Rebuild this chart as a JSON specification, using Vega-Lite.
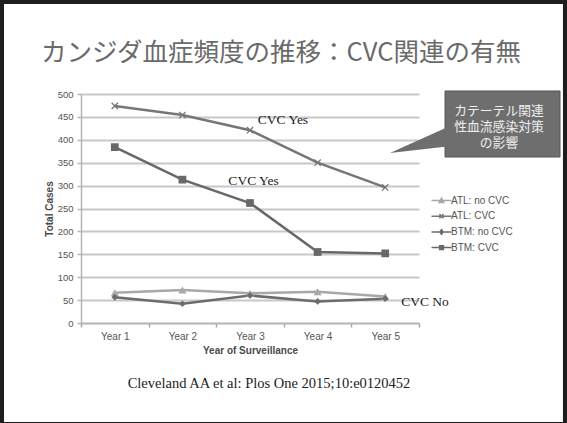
{
  "$schema": "https://vega.github.io/schema/vega-lite/v6.json",
  "width": 338,
  "height": 229,
  "autosize": {"type": "none"},
  "padding": {"left": 81, "top": 94, "right": 148, "bottom": 100},
  "background": "white",
  "config": {
    "view": {"stroke": null}
  },
  "datasets": {
    "series": [
      {"series": "ATL: no CVC", "year": 1, "cases": 66},
      {"series": "ATL: no CVC", "year": 2, "cases": 72},
      {"series": "ATL: no CVC", "year": 3, "cases": 65},
      {"series": "ATL: no CVC", "year": 4, "cases": 68},
      {"series": "ATL: no CVC", "year": 5, "cases": 58},
      {"series": "ATL: CVC", "year": 1, "cases": 474},
      {"series": "ATL: CVC", "year": 2, "cases": 454},
      {"series": "ATL: CVC", "year": 3, "cases": 421},
      {"series": "ATL: CVC", "year": 4, "cases": 350},
      {"series": "ATL: CVC", "year": 5, "cases": 296},
      {"series": "BTM: no CVC", "year": 1, "cases": 56},
      {"series": "BTM: no CVC", "year": 2, "cases": 42},
      {"series": "BTM: no CVC", "year": 3, "cases": 60},
      {"series": "BTM: no CVC", "year": 4, "cases": 47},
      {"series": "BTM: no CVC", "year": 5, "cases": 53},
      {"series": "BTM: CVC", "year": 1, "cases": 384},
      {"series": "BTM: CVC", "year": 2, "cases": 313},
      {"series": "BTM: CVC", "year": 3, "cases": 262},
      {"series": "BTM: CVC", "year": 4, "cases": 155},
      {"series": "BTM: CVC", "year": 5, "cases": 152}
    ],
    "ticks": [
      {"year": 0.5}, {"year": 1.5}, {"year": 2.5}, {"year": 3.5}, {"year": 4.5}, {"year": 5.5}
    ],
    "pointer": [
      {"year": 5.071, "cases": 371.2, "cases2": 371.2},
      {"year": 5.95, "cases": 429.4, "cases2": 386.0}
    ],
    "box": [
      {"year": 5.885, "year2": 7.586, "cases": 506.6, "cases2": 362.4}
    ],
    "boxtext": [
      {"year": 6.683, "cases": 463.0, "label": ["カテーテル関連", "性血流感染対策", "の影響"]}
    ],
    "notes": [
      {"year": 3.488, "cases": 443.2, "label": "CVC Yes"},
      {"year": 3.052, "cases": 310.0, "label": "CVC Yes"},
      {"year": 5.589, "cases": 46.5, "label": "CVC No"}
    ],
    "title": [
      {"year": 3.459, "cases": 589.5, "label": "カンジダ血症頻度の推移：CVC関連の有無"}
    ],
    "cite": [
      {"year": 3.281, "cases": -133.2, "label": "Cleveland AA et al: Plos One 2015;10:e0120452"}
    ],
    "frame": [
      {"year": -0.698, "year2": 7.689, "cases": 705.2, "cases2": -224.9}
    ]
  },
  "resolve": {"axis": {"x": "independent", "y": "independent"}},
  "layer": [
    {
      "data": {"name": "series"},
      "mark": {"type": "line", "strokeWidth": 2.5},
      "encoding": {
        "x": {
          "field": "year",
          "type": "quantitative",
          "scale": {"domain": [0.5, 5.5], "nice": false, "zero": false},
          "axis": {
            "orient": "bottom",
            "title": "Year of Surveillance",
            "values": [1, 2, 3, 4, 5],
            "labelExpr": "'Year ' + datum.value",
            "ticks": false,
            "grid": false,
            "domainColor": "#b5b5b5",
            "domainWidth": 1.5,
            "labelFont": "Liberation Sans",
            "labelFontSize": 10,
            "labelColor": "#555555",
            "labelPadding": 8,
            "labelFlush": false,
            "labelOverlap": false,
            "titleFont": "Liberation Sans",
            "titleFontSize": 10,
            "titleFontWeight": "bold",
            "titleColor": "#4a4a4a",
            "titlePadding": 4
          }
        },
        "y": {
          "field": "cases",
          "type": "quantitative",
          "scale": {"domain": [0, 500], "nice": false},
          "axis": {
            "orient": "left",
            "title": "Total Cases",
            "values": [0, 50, 100, 150, 200, 250, 300, 350, 400, 450, 500],
            "labelOverlap": false,
            "grid": true,
            "gridColor": "#c8c8c8",
            "gridWidth": 2,
            "domainColor": "#b5b5b5",
            "domainWidth": 1.5,
            "tickColor": "#b5b5b5",
            "tickWidth": 1.5,
            "tickSize": 4,
            "labelFont": "Liberation Sans",
            "labelFontSize": 9.5,
            "labelColor": "#555555",
            "labelPadding": 4,
            "titleFont": "Liberation Sans",
            "titleFontSize": 10,
            "titleFontWeight": "bold",
            "titleColor": "#4a4a4a",
            "titlePadding": 3
          }
        },
        "color": {
          "field": "series",
          "type": "nominal",
          "scale": {
            "domain": ["ATL: no CVC", "ATL: CVC", "BTM: no CVC", "BTM: CVC"],
            "range": ["#a8a8a8", "#767676", "#6c6c6c", "#686868"]
          },
          "legend": {
            "title": null,
            "orient": "none",
            "legendX": 352,
            "legendY": 98,
            "padding": 0,
            "labelFont": "Liberation Sans",
            "labelFontSize": 10,
            "labelColor": "#555555",
            "labelOffset": 1,
            "symbolSize": 225,
            "rowPadding": 1.7,
            "encode": {
              "symbols": {
                "update": {
                  "shape": {"signal": "datum.value === 'ATL: no CVC' ? 'M-1.33,0H1.33M-0.3,0.25L0,-0.3L0.3,0.25Z' : datum.value === 'ATL: CVC' ? 'M-1.33,0H1.33M-0.28,-0.28L0.28,0.28M-0.28,0.28L0.28,-0.28' : datum.value === 'BTM: no CVC' ? 'M-1.33,0H1.33M0,-0.3L0.22,0L0,0.3L-0.22,0Z' : 'M-1.33,0H1.33M-0.25,-0.25H0.25V0.25H-0.25Z'"},
                  "fill": {"scale": "color", "field": "value"},
                  "stroke": {"scale": "color", "field": "value"},
                  "strokeWidth": {"value": 1.5},
                  "opacity": {"value": 1}
                }
              }
            }
          }
        }
      }
    },
    {
      "data": {"name": "ticks"},
      "mark": {"type": "point", "opacity": 0},
      "encoding": {
        "x": {
          "field": "year",
          "type": "quantitative",
          "axis": {
            "orient": "bottom",
            "title": null,
            "values": [0.5, 1.5, 2.5, 3.5, 4.5, 5.5],
            "labels": false,
            "domain": false,
            "grid": false,
            "ticks": true,
            "tickColor": "#a8a8a8",
            "tickWidth": 1.5,
            "tickSize": 4
          }
        }
      }
    },
    {
      "data": {"name": "series"},
      "transform": [{"filter": "datum.series === 'ATL: no CVC'"}],
      "mark": {"type": "point", "shape": "triangle-up", "filled": true, "size": 65, "opacity": 1},
      "encoding": {
        "x": {"field": "year", "type": "quantitative", "axis": null},
        "y": {"field": "cases", "type": "quantitative", "axis": null},
        "color": {"field": "series", "type": "nominal"}
      }
    },
    {
      "data": {"name": "series"},
      "transform": [{"filter": "datum.series === 'ATL: CVC'"}],
      "mark": {"type": "point", "shape": "M-1,-1L1,1M-1,1L1,-1", "filled": false, "size": 40, "strokeWidth": 1.3, "opacity": 1},
      "encoding": {
        "x": {"field": "year", "type": "quantitative", "axis": null},
        "y": {"field": "cases", "type": "quantitative", "axis": null},
        "color": {"field": "series", "type": "nominal"}
      }
    },
    {
      "data": {"name": "series"},
      "transform": [{"filter": "datum.series === 'BTM: no CVC'"}],
      "mark": {"type": "point", "shape": "diamond", "filled": true, "size": 45, "opacity": 1},
      "encoding": {
        "x": {"field": "year", "type": "quantitative", "axis": null},
        "y": {"field": "cases", "type": "quantitative", "axis": null},
        "color": {"field": "series", "type": "nominal"}
      }
    },
    {
      "data": {"name": "series"},
      "transform": [{"filter": "datum.series === 'BTM: CVC'"}],
      "mark": {"type": "point", "shape": "square", "filled": true, "size": 60, "opacity": 1},
      "encoding": {
        "x": {"field": "year", "type": "quantitative", "axis": null},
        "y": {"field": "cases", "type": "quantitative", "axis": null},
        "color": {"field": "series", "type": "nominal"}
      }
    },
    {
      "data": {"name": "box"},
      "mark": {"type": "rect", "fill": "#6e6e6e", "stroke": "#555555", "strokeWidth": 1},
      "encoding": {
        "x": {"field": "year", "type": "quantitative", "axis": null},
        "x2": {"field": "year2"},
        "y": {"field": "cases", "type": "quantitative", "axis": null},
        "y2": {"field": "cases2"}
      }
    },
    {
      "data": {"name": "pointer"},
      "mark": {"type": "area", "fill": "#6e6e6e", "opacity": 1},
      "encoding": {
        "x": {"field": "year", "type": "quantitative", "axis": null},
        "y": {"field": "cases", "type": "quantitative", "axis": null},
        "y2": {"field": "cases2"}
      }
    },
    {
      "data": {"name": "boxtext"},
      "mark": {"type": "text", "font": "Noto Sans CJK JP", "fontSize": 12.8, "color": "#efefef", "align": "center", "baseline": "middle", "lineHeight": 16},
      "encoding": {
        "x": {"field": "year", "type": "quantitative", "axis": null},
        "y": {"field": "cases", "type": "quantitative", "axis": null},
        "text": {"field": "label"}
      }
    },
    {
      "data": {"name": "notes"},
      "mark": {"type": "text", "font": "Liberation Serif", "fontSize": 13.5, "color": "#1a1a1a", "align": "center", "baseline": "middle"},
      "encoding": {
        "x": {"field": "year", "type": "quantitative", "axis": null},
        "y": {"field": "cases", "type": "quantitative", "axis": null},
        "text": {"field": "label"}
      }
    },
    {
      "data": {"name": "title"},
      "mark": {"type": "text", "font": "Noto Sans CJK JP", "fontSize": 25.5, "color": "#6a6a6a", "align": "center", "baseline": "middle"},
      "encoding": {
        "x": {"field": "year", "type": "quantitative", "axis": null},
        "y": {"field": "cases", "type": "quantitative", "axis": null},
        "text": {"field": "label"}
      }
    },
    {
      "data": {"name": "cite"},
      "mark": {"type": "text", "font": "Liberation Serif", "fontSize": 14.5, "color": "#222222", "align": "center", "baseline": "middle"},
      "encoding": {
        "x": {"field": "year", "type": "quantitative", "axis": null},
        "y": {"field": "cases", "type": "quantitative", "axis": null},
        "text": {"field": "label"}
      }
    },
    {
      "data": {"name": "frame"},
      "mark": {"type": "rect", "fill": null, "fillOpacity": 0, "stroke": "#1e1e1e", "strokeWidth": 8},
      "encoding": {
        "x": {"field": "year", "type": "quantitative", "axis": null},
        "x2": {"field": "year2"},
        "y": {"field": "cases", "type": "quantitative", "axis": null},
        "y2": {"field": "cases2"}
      }
    }
  ]
}
